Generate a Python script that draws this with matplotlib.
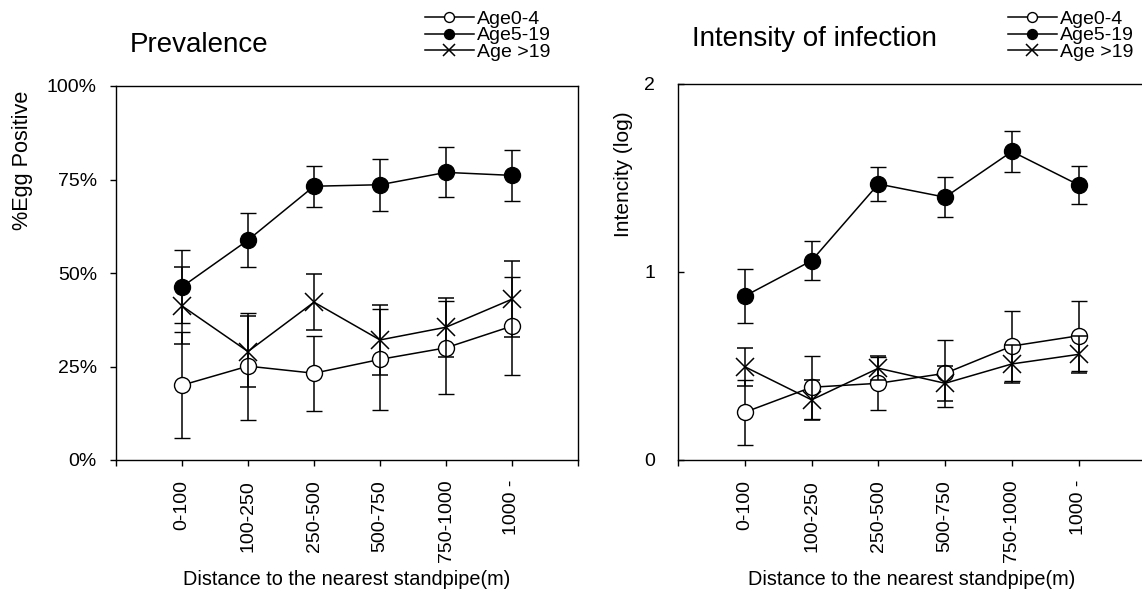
import matplotlib
matplotlib.use("Agg")
import matplotlib.pyplot as plt

plt.rcParams['font.family'] = ['Liberation Sans', 'DejaVu Sans']

categories = ['0-100', '100-250', '250-500', '500-750', '750-1000', '1000 -']
series_labels = ['Age0-4', 'Age5-19', 'Age >19']

# Prevalence (% egg positive)
prev_age0_4 = [20.0, 25.1, 23.2, 26.9, 30.0, 35.8]
prev_age0_4_err = [14.2, 14.3, 10.0, 13.5, 12.4, 13.1]
prev_age5_19 = [46.3, 58.8, 73.2, 73.6, 76.9, 76.1]
prev_age5_19_err = [9.8, 7.3, 5.5, 7.0, 6.7, 6.9]
prev_age19 = [41.2, 29.0, 42.2, 32.1, 35.5, 43.0]
prev_age19_err = [10.3, 9.6, 7.5, 9.3, 7.9, 10.1]

# Intensity of infection (log)
int_age0_4 = [0.254, 0.387, 0.408, 0.461, 0.606, 0.661]
int_age0_4_err = [0.174, 0.168, 0.142, 0.177, 0.187, 0.185]
int_age5_19 = [0.872, 1.060, 1.468, 1.398, 1.641, 1.463]
int_age5_19_err = [0.145, 0.104, 0.089, 0.107, 0.109, 0.103]
int_age19 = [0.496, 0.320, 0.488, 0.408, 0.511, 0.562]
int_age19_err = [0.100, 0.107, 0.065, 0.094, 0.100, 0.100]

prev_yticks = [0, 25, 50, 75, 100]
prev_yticklabels = ['0%', '25%', '50%', '75%', '100%']
int_yticks = [0, 1, 2]
int_yticklabels = ['0', '1', '2']

W, H = 1142, 590
fig = plt.figure(figsize=(W / 100, H / 100), dpi=100)

ax1 = fig.add_axes([116 / W, 1 - 460 / H, 462 / W, 374 / H])
ax2 = fig.add_axes([678 / W, 1 - 460 / H, 467.5 / W, 376 / H])

x = list(range(1, len(categories) + 1))
styles = [
    dict(marker='o', markerfacecolor='white', markeredgecolor='black', markersize=11.5, markeredgewidth=1.0),
    dict(marker='o', markerfacecolor='black', markeredgecolor='black', markersize=11.5, markeredgewidth=1.0),
    dict(marker='x', markerfacecolor='none', markeredgecolor='black', markersize=13, markeredgewidth=1.1),
]


def draw(ax, series, errs):
    handles = []
    order = [2, 1, 0]
    for i in order:
        c = ax.errorbar(x, series[i], yerr=errs[i], color='black', lw=1.1,
                        elinewidth=1.1, capsize=6, capthick=1.1,
                        zorder=3 + i, **styles[i])
        handles.append((i, c.lines[0]))
    handles.sort(key=lambda t: t[0])
    return [h for _, h in handles]


h1 = draw(ax1, [prev_age0_4, prev_age5_19, prev_age19],
          [prev_age0_4_err, prev_age5_19_err, prev_age19_err])
h2 = draw(ax2, [int_age0_4, int_age5_19, int_age19],
          [int_age0_4_err, int_age5_19_err, int_age19_err])

for ax in (ax1, ax2):
    ax.set_xlim(0, len(categories) + 1)
    ax.set_xticks(range(0, len(categories) + 2))
    ax.set_xticklabels([''] + categories + [''], rotation=90, fontsize=14,
                       va='top', ha='center')
    ax.set_xlabel('Distance to the nearest standpipe(m)', fontsize=14.3, labelpad=5.5)
    for s in ax.spines.values():
        s.set_linewidth(1.0)
    ax.tick_params(axis='x', direction='out', length=4.3, width=1.0, pad=10)

ax1.set_ylim(0, 100)
ax1.set_yticks(prev_yticks)
ax1.set_yticklabels(prev_yticklabels, fontsize=14)
ax1.tick_params(axis='y', direction='out', length=4.3, width=1.0, pad=9.4)
ax1.set_ylabel('%Egg Positive', fontsize=15.6)
ax1.yaxis.set_label_coords(-0.18, 0.80)

ax2.set_ylim(0, 2)
ax2.set_yticks(int_yticks)
ax2.set_yticklabels(int_yticklabels, fontsize=14)
ax2.tick_params(axis='y', direction='in', length=4.3, width=1.0, pad=16.5)
ax2.set_ylabel('Intencity (log)', fontsize=15)
ax2.yaxis.set_label_coords(-0.096, 0.76)

ax1.text(14 / 462, (460 - 45) / 374, 'Prevalence', transform=ax1.transAxes,
         fontsize=20, ha='left', va='center')
ax2.text((692 - 678) / 467.5, (460 - 39) / 376, 'Intensity of infection',
         transform=ax2.transAxes, fontsize=20, ha='left', va='center')

for ax, hs, x0 in ((ax1, h1, 425), (ax2, h2, 1008)):
    ax.legend(hs, series_labels, loc='upper left',
              bbox_to_anchor=(x0 / W, 1 - 10 / H), bbox_transform=fig.transFigure,
              frameon=False, fontsize=14, borderpad=0, borderaxespad=0,
              handlelength=2.5, handletextpad=0.15, labelspacing=-0.04,
              markerscale=0.62)

fig.savefig('out.png', dpi=100)
